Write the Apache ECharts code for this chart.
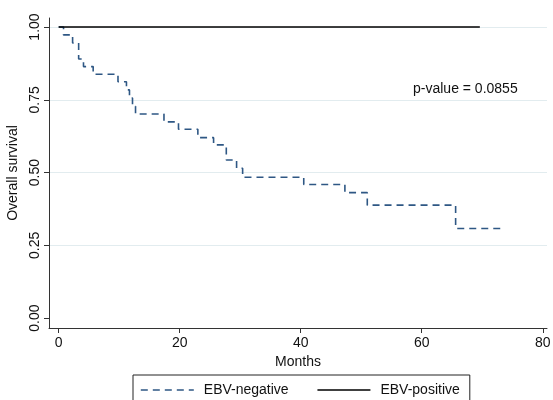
<!DOCTYPE html>
<html>
<head>
<meta charset="utf-8">
<script src="https://cdn.jsdelivr.net/npm/echarts@6/dist/echarts.min.js"></script>
<style>
  html, body { margin: 0; padding: 0; background: #fff; }
  #chart { width: 553px; height: 400px; }
</style>
</head>
<body>
<div id="chart"></div>
<script>
// EBV-negative KM curve (months, survival after step)
var negMonths = [0, 0.8, 2.3, 3.3, 4.1, 5.7, 9.8, 11.2, 11.7, 12.2, 12.7, 17.4, 19.8, 23.0, 25.6, 27.7, 29.4, 30.4, 40.5, 47.3, 51.0, 65.6, 73.4];
var negSurv   = [1, 0.973, 0.945, 0.89, 0.864, 0.838, 0.812, 0.784, 0.756, 0.728, 0.701, 0.674, 0.649, 0.62, 0.595, 0.543, 0.515, 0.484, 0.459, 0.431, 0.388, 0.308, 0.308];
// EBV-positive: nobody died
var posMonths = [0, 69.6];
var posSurv   = [1, 1];

var xTicks = [0, 20, 40, 60, 80];
var yTicks = [0, 0.25, 0.5, 0.75, 1];
var pValueText = 'p-value = 0.0855';

var negColor = '#2e5784';
var negDash = [7, 5];

function pairs(xs, ys) {
  return xs.map(function (x, i) { return [x, ys[i]]; });
}

var font = 'Liberation Sans, Arial, sans-serif';
var chart = echarts.init(document.getElementById('chart'));

chart.setOption({
  animation: false,
  backgroundColor: '#fff',
  grid: { left: 49, top: 18, width: 498, height: 310, containLabel: false, outerBoundsMode: 'none' },
  xAxis: {
    type: 'value',
    min: -1.6,
    max: 80.7,
    name: 'Months',
    nameLocation: 'middle',
    nameGap: 21,
    nameTextStyle: { color: '#111', fontSize: 14, fontFamily: font },
    axisLine: { show: true, onZero: false, lineStyle: { color: '#333', width: 1 } },
    axisTick: { show: true, length: 5, lineStyle: { color: '#333' }, customValues: xTicks },
    axisLabel: { color: '#111', fontSize: 14, fontFamily: font, margin: 8, customValues: xTicks },
    splitLine: { show: false }
  },
  yAxis: {
    type: 'value',
    min: -0.034,
    max: 1.031,
    name: 'Overall survival',
    nameLocation: 'middle',
    nameRotate: 90,
    nameGap: 24,
    nameTextStyle: { color: '#111', fontSize: 14, fontFamily: font },
    axisLine: { show: true, onZero: false, lineStyle: { color: '#333', width: 1 } },
    axisTick: { show: true, length: 5, lineStyle: { color: '#333' }, customValues: yTicks },
    axisLabel: {
      color: '#111', fontSize: 14, fontFamily: font, rotate: 90, margin: 7,
      customValues: yTicks,
      formatter: function (v) { return v.toFixed(2); }
    },
    splitLine: { show: false }
  },
  legend: {
    left: 133,
    top: 375,
    padding: [8, 10, 12, 7],
    borderColor: '#222',
    borderWidth: 1,
    itemWidth: 53,
    itemHeight: 14,
    itemGap: 28,
    textStyle: { color: '#111', fontSize: 14, fontFamily: font, padding: [0, 0, 0, 5] },
    data: [
      { name: 'EBV-negative', itemStyle: { opacity: 0 }, lineStyle: { color: negColor, width: 1.6, type: negDash } },
      { name: 'EBV-positive', itemStyle: { opacity: 0 }, lineStyle: { color: '#000', width: 1.6, type: 'solid' } }
    ]
  },
  graphic: [{
    type: 'text',
    left: 413,
    top: 82,
    style: { text: pValueText, fill: '#111', fontSize: 14, fontFamily: font }
  }],
  series: [
    {
      name: 'EBV-negative',
      type: 'line',
      step: 'end',
      symbol: 'none',
      data: pairs(negMonths, negSurv),
      itemStyle: { color: negColor },
      lineStyle: { color: negColor, width: 1.6, type: negDash },
      markLine: {
        silent: true,
        symbol: 'none',
        label: { show: false },
        lineStyle: { color: '#e2ecef', width: 1, type: 'solid' },
        data: yTicks.slice(1).map(function (v) { return { yAxis: v }; }),
        z: 0
      },
      z: 3
    },
    {
      name: 'EBV-positive',
      type: 'line',
      symbol: 'none',
      data: pairs(posMonths, posSurv),
      itemStyle: { color: '#000' },
      lineStyle: { color: '#000', width: 1.6, type: 'solid' },
      z: 4
    }
  ]
});
</script>
</body>
</html>
